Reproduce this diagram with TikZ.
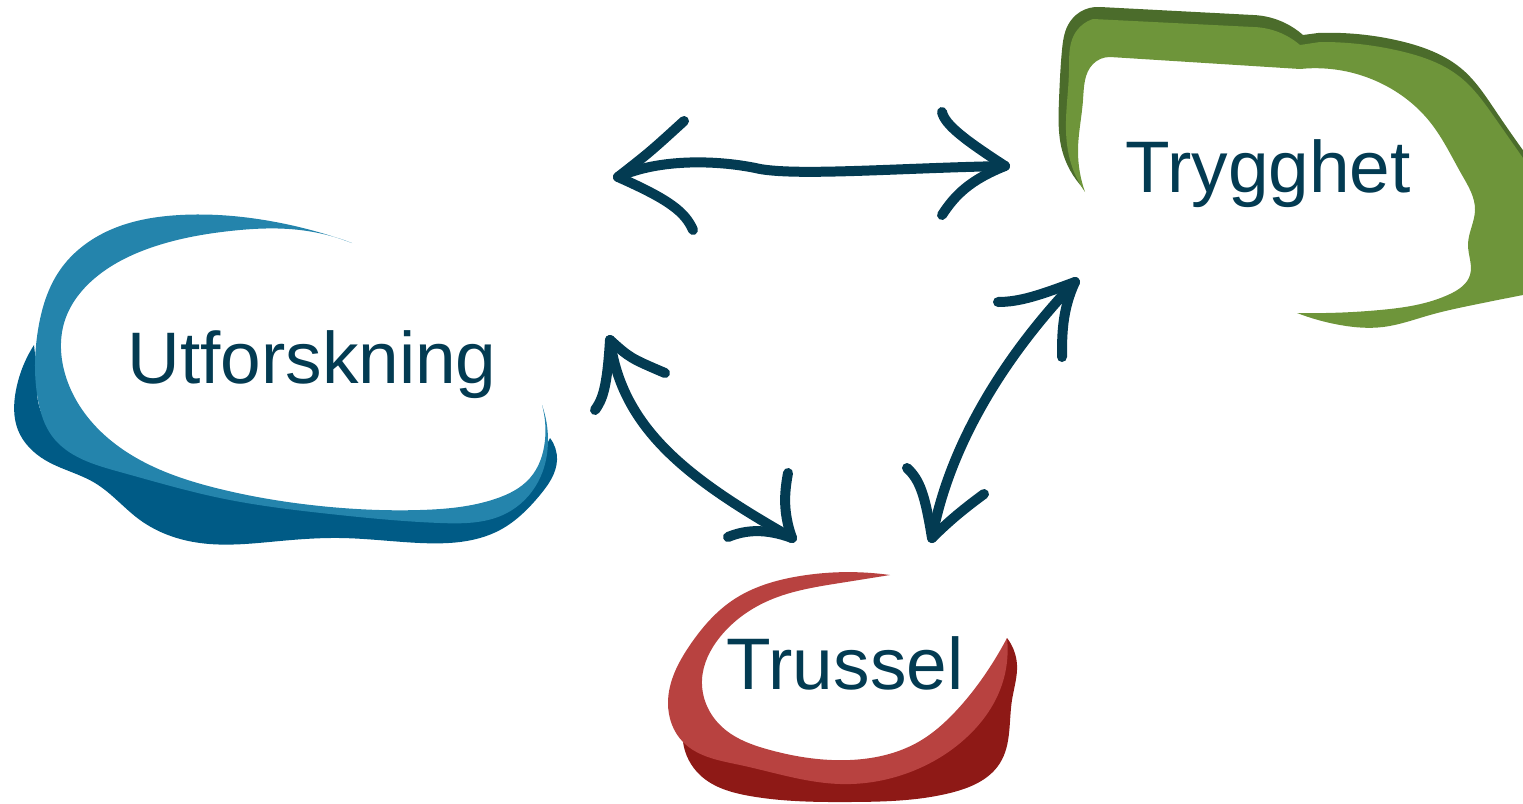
\documentclass[tikz,border=0pt]{standalone}
\usepackage{fontspec}
\setmainfont{Liberation Sans}
\usetikzlibrary{hobby}
\definecolor{blueL}{HTML}{2484AC}
\definecolor{blueD}{HTML}{005B86}
\definecolor{greenL}{HTML}{6E953A}
\definecolor{greenD}{HTML}{4B6C2B}
\definecolor{redL}{HTML}{B84240}
\definecolor{redD}{HTML}{8E1916}
\definecolor{ink}{HTML}{033B52}
\tikzset{
  sketch/.style={draw=ink, line width=10pt, line cap=round, line join=round},
  label/.style={text=ink, inner sep=0pt, anchor=base, font=\fontsize{73}{88}\selectfont},
  blob/.style={use Hobby shortcut}
}
\begin{document}
\begin{tikzpicture}[x=1pt,y=-1pt]
\useasboundingbox (0,0) rectangle (1523,803);
\clip (0,0) rectangle (1523,803);

% ---------- blue blob ----------
\fill[blueD, blob] (34,345) .. (16,390) .. (18,430) .. (45,460) .. (95,483) .. (140,520) .. (200,543) .. (280,541) .. (340,538) .. (420,543) .. (500,530) .. (540,495) .. (557,460) .. (550,438)
  -- (544,450) .. (530,485) .. (500,508) .. (420,517) .. (320,510) .. (220,494) .. (130,472) .. (70,445) .. (45,420) .. (38,380) -- cycle;
\fill[blueL, blob] (352,243) .. (270,221) .. (180,215) .. (110,230) .. (60,270) .. (38,330) .. (38,400) .. (52,436) .. (120,472) .. (220,498) .. (330,514) .. (440,523) .. (505,514) .. (538,482) .. (548,440) .. (542,405)
  -- (542,405) .. (545,440) .. (530,478) .. (495,499) .. (420,510) .. (320,506) .. (220,489) .. (140,460) .. (90,420) .. (64,370) .. (65,320) .. (95,278) .. (150,248) .. (230,231) .. (300,230) .. (352,243) -- cycle;

% ---------- green blob ----------
\fill[greenD, blob] (1083,188) .. (1062,150) .. (1059,100) .. (1062,50) .. (1068,25) .. (1080,12) .. (1100,7) -- (1253,15) .. (1285,23) .. (1303,35)
  -- (1318,33) .. (1400,41) .. (1463,70) .. (1495,110) .. (1530,160)
  -- (1530,180) .. (1495,130) .. (1460,92) .. (1400,62) .. (1318,52)
  -- (1300,55) .. (1280,43) .. (1250,36) -- (1100,30) .. (1082,45) .. (1076,90) .. (1073,150) .. (1083,188) -- cycle;
\fill[greenL, blob] (1085,192) .. (1070,160) .. (1066,120) .. (1069,70) .. (1074,35) .. (1093,19) -- (1253,27) .. (1285,35) .. (1300,45)
  -- (1320,42) .. (1400,51) .. (1460,77) .. (1495,118) .. (1530,168)
  -- (1530,294) -- (1523,295) .. (1473,305) .. (1430,315) .. (1383,327) .. (1340,325) .. (1297,313)
  -- (1297,313) .. (1380,310) .. (1450,294) .. (1470,275) .. (1468,245) .. (1475,210) .. (1462,175) .. (1430,122) .. (1390,88) .. (1300,69)
  -- (1110,57) .. (1093,64) .. (1083,100) .. (1078,150) .. (1085,192) -- cycle;

% ---------- red blob ----------
\fill[redD, blob] (683,742) .. (700,775) .. (750,796) .. (850,802) .. (950,793) .. (1000,763) .. (1012,700) .. (1017,665) .. (1007,638)
  -- (1004,670) .. (985,710) .. (945,752) .. (880,775) .. (800,772) .. (720,757) .. (683,742) -- cycle;
\fill[redL, blob] (890,575) .. (800,576) .. (733,600) .. (690,645) .. (668,703) .. (683,742) .. (740,765) .. (840,784) .. (920,768) .. (967,737) .. (1000,690) .. (1007,638)
  -- (1007,638) .. (990,667) .. (955,712) .. (920,741) .. (850,760) .. (770,750) .. (720,725) .. (702,680) .. (720,637) .. (770,600) .. (840,583) .. (890,575) -- cycle;

% ---------- labels ----------
\node[label] (utf) at (312,383) {Utforskning};
\node[label] (tryg) at (1268,192) {Trygghet};
\node[label] (trus) at (845,689) {Trussel};

% ---------- arrow ends ----------
\coordinate (t1L) at (618,177);
\coordinate (t1R) at (1005,166);
\coordinate (t2A) at (610,340);
\coordinate (t2B) at (792,538);
\coordinate (t3A) at (1075,282);
\coordinate (t3B) at (932,538);

% arrow Utforskning <-> Trygghet
\draw[sketch] (t1L) .. controls (660,158) and (720,160) .. (760,169) .. controls (800,176) and (900,168) .. (t1R);
\draw[sketch] (t1L) .. controls (650,152) .. (684,121);
\draw[sketch] (t1L) .. controls (670,200) and (685,212) .. (693,230);
\draw[sketch] (t1R) .. controls (965,140) and (945,125) .. (942,112);
\draw[sketch] (t1R) .. controls (970,180) and (955,195) .. (942,215);

% arrow Utforskning <-> Trussel
\draw[sketch] (t2A) .. controls (622,430) and (690,480) .. (t2B);
\draw[sketch] (t2A) .. controls (607,390) and (602,400) .. (595,410);
\draw[sketch] (t2A) .. controls (630,358) .. (665,373);
\draw[sketch] (t2B) .. controls (782,510) and (785,490) .. (788,473);
\draw[sketch] (t2B) .. controls (765,528) and (745,530) .. (728,537);

% arrow Trygghet <-> Trussel
\draw[sketch] (t3A) .. controls (1010,350) and (950,440) .. (t3B);
\draw[sketch] (t3A) .. controls (1040,295) and (1020,302) .. (998,302);
\draw[sketch] (t3A) .. controls (1062,310) and (1062,335) .. (1062,357);
\draw[sketch] (t3B) .. controls (925,495) and (920,480) .. (907,468);
\draw[sketch] (t3B) .. controls (950,520) and (965,508) .. (984,494);
\end{tikzpicture}
\end{document}
